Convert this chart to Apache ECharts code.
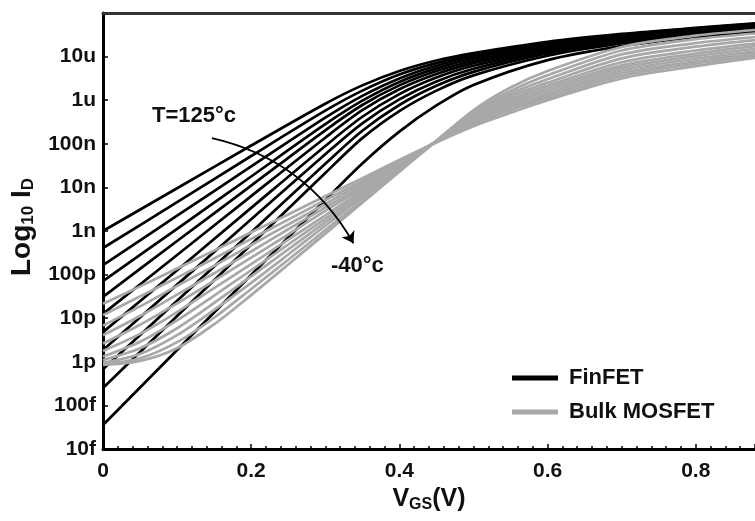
<!DOCTYPE html>
<html>
<head>
<meta charset="utf-8">
<script src="https://cdn.jsdelivr.net/npm/echarts@6/dist/echarts.min.js"></script>
<style>
html, body { margin: 0; padding: 0; background: #fff; }
#chart { width: 755px; height: 521px; }
</style>
</head>
<body>
<div id="chart"></div>
<script>
// VGS sample points (V) and log10(ID) values
var vgsFin = [0, 0.1, 0.2, 0.3, 0.35, 0.4, 0.45, 0.5, 0.6, 0.7, 0.8, 0.88];
// FinFET, T = 125 C (first) down to -40 C (last)
var finfet = [
    [-9.00, -8.02, -7.04, -6.08, -5.66, -5.33, -5.09, -4.92, -4.66, -4.48, -4.34, -4.24],
    [-9.39, -8.34, -7.28, -6.24, -5.78, -5.41, -5.15, -4.96, -4.69, -4.50, -4.35, -4.25],
    [-9.78, -8.65, -7.52, -6.40, -5.90, -5.50, -5.21, -5.00, -4.72, -4.52, -4.37, -4.26],
    [-10.15, -8.95, -7.75, -6.55, -6.01, -5.58, -5.27, -5.05, -4.75, -4.54, -4.38, -4.27],
    [-10.51, -9.23, -7.96, -6.69, -6.11, -5.66, -5.33, -5.10, -4.78, -4.56, -4.40, -4.29],
    [-10.90, -9.55, -8.20, -6.86, -6.23, -5.75, -5.40, -5.15, -4.81, -4.58, -4.41, -4.30],
    [-11.32, -9.90, -8.47, -7.05, -6.38, -5.86, -5.48, -5.21, -4.85, -4.61, -4.43, -4.32],
    [-11.73, -10.23, -8.73, -7.24, -6.53, -5.98, -5.57, -5.28, -4.89, -4.64, -4.45, -4.34],
    [-12.17, -10.60, -9.03, -7.46, -6.70, -6.11, -5.67, -5.35, -4.93, -4.67, -4.48, -4.36],
    [-12.60, -10.95, -9.31, -7.67, -6.87, -6.25, -5.78, -5.43, -4.98, -4.70, -4.50, -4.38],
    [-13.45, -11.73, -10.01, -8.29, -7.45, -6.72, -6.12, -5.65, -5.08, -4.76, -4.55, -4.42]
];

var vgsBulk = [0, 0.05, 0.1, 0.15, 0.2, 0.25, 0.3, 0.35, 0.4, 0.45, 0.5, 0.55, 0.6, 0.7, 0.8, 0.88];
// Bulk MOSFET, T = 125 C (first) down to -40 C (last)
var bulk = [
    [-10.67, -10.27, -9.86, -9.45, -9.03, -8.62, -8.20, -7.79, -7.37, -6.97, -6.60, -6.29, -6.00, -5.50, -5.22, -5.03],
    [-10.93, -10.50, -10.07, -9.63, -9.18, -8.74, -8.29, -7.85, -7.40, -6.96, -6.56, -6.23, -5.95, -5.44, -5.16, -4.98],
    [-11.17, -10.73, -10.26, -9.80, -9.32, -8.85, -8.38, -7.90, -7.43, -6.95, -6.52, -6.18, -5.90, -5.38, -5.11, -4.93],
    [-11.39, -10.95, -10.46, -9.97, -9.47, -8.96, -8.46, -7.96, -7.45, -6.95, -6.48, -6.13, -5.85, -5.32, -5.05, -4.88],
    [-11.58, -11.15, -10.66, -10.14, -9.61, -9.08, -8.54, -8.01, -7.48, -6.94, -6.44, -6.08, -5.79, -5.26, -4.99, -4.82],
    [-11.75, -11.36, -10.86, -10.31, -9.76, -9.20, -8.64, -8.07, -7.51, -6.95, -6.41, -6.03, -5.73, -5.20, -4.93, -4.76],
    [-11.88, -11.54, -11.05, -10.48, -9.90, -9.31, -8.72, -8.13, -7.53, -6.94, -6.37, -5.97, -5.67, -5.13, -4.86, -4.70],
    [-11.96, -11.69, -11.23, -10.65, -10.04, -9.42, -8.80, -8.18, -7.56, -6.94, -6.33, -5.91, -5.60, -5.04, -4.77, -4.62],
    [-12.02, -11.82, -11.39, -10.81, -10.19, -9.54, -8.88, -8.23, -7.58, -6.93, -6.30, -5.85, -5.52, -4.95, -4.69, -4.55],
    [-12.05, -11.92, -11.55, -10.99, -10.33, -9.66, -8.98, -8.30, -7.62, -6.94, -6.27, -5.79, -5.43, -4.86, -4.60, -4.47],
    [-12.07, -11.98, -11.69, -11.14, -10.47, -9.77, -9.06, -8.35, -7.64, -6.93, -6.23, -5.71, -5.33, -4.78, -4.52, -4.39]
];

var yTickLabels = ['10f', '100f', '1p', '10p', '100p', '1n', '10n', '100n', '1u', '10u', '100u'];
var yMinLog = -14;
// temperature arrow: start and end in (VGS, log10 ID)
var arrowPath = [[0.147, -6.87], [0.338, -9.28]];

var FONT = 'Liberation Sans, Arial, sans-serif';

function toPairs(xs, ys) {
    var out = [];
    for (var i = 0; i < xs.length; i++) {
        out.push([xs[i], ys[i]]);
    }
    return out;
}

var myChart = echarts.init(document.getElementById('chart'));
var series = [];
for (var i = 0; i < finfet.length; i++) {
    series.push({
        name: 'FinFET',
        type: 'line',
        smooth: 0.3,
        symbol: 'none',
        silent: true,
        lineStyle: { color: '#000', width: 2.7 },
        itemStyle: { color: '#000' },
        data: toPairs(vgsFin, finfet[i])
    });
}
for (var j = 0; j < bulk.length; j++) {
    series.push({
        name: 'Bulk MOSFET',
        type: 'line',
        smooth: 0.3,
        symbol: 'none',
        silent: true,
        lineStyle: { color: '#a8a8a8', width: 2.7 },
        itemStyle: { color: '#a8a8a8' },
        data: toPairs(vgsBulk, bulk[j])
    });
}
series.push({
    type: 'lines',
    coordinateSystem: 'cartesian2d',
    silent: true,
    symbol: ['none', 'arrow'],
    symbolSize: 11,
    lineStyle: { color: '#000', width: 1.8, opacity: 1, curveness: 0.22 },
    data: [{ coords: arrowPath }],
    z: 5
});

option = {
    backgroundColor: '#fff',
    animation: false,
    grid: {
        left: 103,
        right: 0,
        top: 13,
        bottom: 72,
        outerBoundsMode: 'none'
    },
    legend: {
        data: ['FinFET', 'Bulk MOSFET'],
        orient: 'vertical',
        left: 507,
        top: 362,
        itemWidth: 46,
        itemHeight: 19,
        itemGap: 12,
        icon: 'path://M0,0 L46,0 L46,5 L0,5 Z',
        textStyle: {
            fontFamily: FONT,
            fontWeight: 'bold',
            fontSize: 22,
            color: '#111',
            padding: [0, 0, 0, 6]
        }
    },
    xAxis: [{
        type: 'value',
        min: 0,
        max: 0.88,
        interval: 0.2,
        name: '{a|V}{b|GS}{a|(V)}',
        nameLocation: 'middle',
        nameGap: 35,
        nameTextStyle: {
            rich: {
                a: { fontFamily: FONT, fontWeight: 'bold', fontSize: 25, color: '#111' },
                b: { fontFamily: FONT, fontWeight: 'bold', fontSize: 16, color: '#111', padding: [11, 0, 0, 0] }
            }
        },
        axisLine: { show: true, lineStyle: { color: '#000', width: 3 } },
        axisTick: { show: true, inside: true, length: 5, lineStyle: { color: '#000', width: 1.5 } },
        minorTick: { show: true, splitNumber: 10, length: 3, lineStyle: { color: '#000', width: 1.5 } },
        splitLine: { show: false },
        axisLabel: {
            margin: 12,
            fontFamily: FONT,
            fontWeight: 'bold',
            fontSize: 21,
            color: '#111',
            showMaxLabel: false,
            formatter: function (v) { return String(Math.round(v * 10) / 10); }
        }
    }, {
        type: 'value',
        position: 'top',
        min: 0,
        max: 0.88,
        axisLine: { show: true, lineStyle: { color: '#333', width: 3 } },
        axisTick: { show: false },
        axisLabel: { show: false },
        splitLine: { show: false }
    }],
    yAxis: {
        type: 'value',
        min: -14,
        max: -4,
        interval: 1,
        name: '{a|Log}{b|10}{a| I}{b|D}',
        nameLocation: 'middle',
        nameGap: 53,
        nameTextStyle: {
            padding: [0, 0, 0, 8],
            rich: {
                a: { fontFamily: FONT, fontWeight: 'bold', fontSize: 28, color: '#111' },
                b: { fontFamily: FONT, fontWeight: 'bold', fontSize: 17, color: '#111', padding: [13, 0, 0, 0] }
            }
        },
        axisLine: { show: true, lineStyle: { color: '#000', width: 3 } },
        axisTick: { show: true, inside: true, length: 5, lineStyle: { color: '#000', width: 1.5 } },
        splitLine: { show: false },
        axisLabel: {
            margin: 7,
            fontFamily: FONT,
            fontWeight: 'bold',
            fontSize: 21,
            color: '#111',
            showMaxLabel: false,
            formatter: function (v) { return yTickLabels[Math.round(v - yMinLog)]; }
        }
    },
    graphic: [
        {
            type: 'text',
            left: 152,
            top: 105,
            style: { text: 'T=125°c', font: 'bold 22px ' + FONT, fill: '#111' }
        },
        {
            type: 'text',
            left: 331,
            top: 255,
            style: { text: '-40°c', font: 'bold 22px ' + FONT, fill: '#111' }
        }
    ],
    series: series
};
myChart.setOption(option);
window.addEventListener('resize', function () { myChart.resize(); })
</script>
</body>
</html>
